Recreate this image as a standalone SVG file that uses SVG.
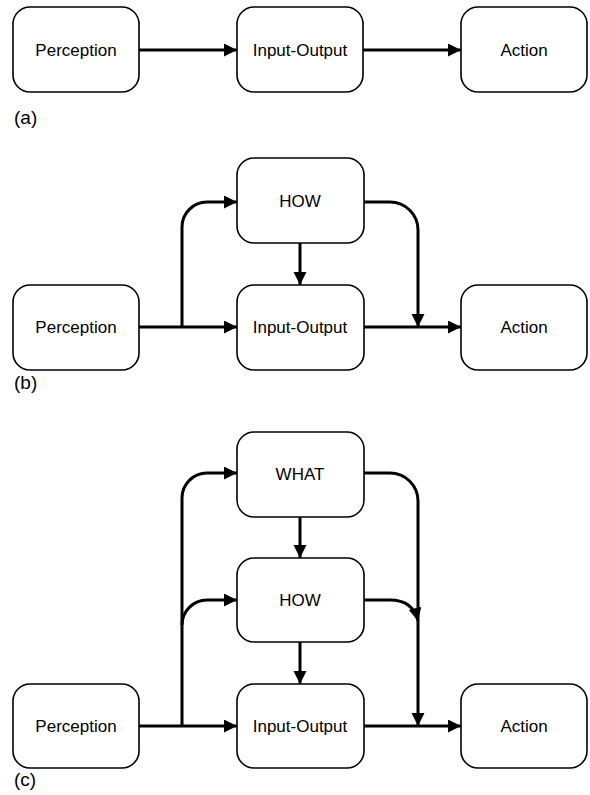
<svg xmlns="http://www.w3.org/2000/svg" width="590" height="795" viewBox="0 0 590 795">
<style>
.box{fill:#fff;stroke:#000;stroke-width:1.6}
.t{font-family:"Liberation Sans",Arial,sans-serif;font-size:17px;text-anchor:middle;fill:#000}
.lbl{font-family:"Liberation Sans",Arial,sans-serif;font-size:19px;fill:#000}
.c{fill:none;stroke:#000;stroke-width:3}
.a{marker-end:url(#ah)}
</style>
<defs>
<marker id="ah" markerUnits="userSpaceOnUse" markerWidth="14" markerHeight="14" refX="13" refY="6.5" orient="auto" viewBox="0 0 14 14">
<path d="M0,0 L13,6.5 L0,13 z" fill="#000"/>
</marker>
</defs>
<rect width="590" height="795" fill="#fff"/>
<g id="connectors">
<!-- (a) -->
<path class="c a" d="M139,50 H237"/>
<path class="c a" d="M363,50 H461"/>
<!-- (b) -->
<path class="c a" d="M139,327 H237"/>
<path class="c a" d="M182,327 V227 A25,25 0 0 1 207,202 H237"/>
<path class="c a" d="M364,202 H390 A28,28 0 0 1 418,230 V327"/>
<path class="c a" d="M364,327 H461"/>
<path class="c a" d="M300,243 V285"/>
<!-- (c) -->
<path class="c a" d="M139,726 H237"/>
<path class="c a" d="M182,726 V498 A25,25 0 0 1 207,473 H237"/>
<path class="c a" d="M182,625 A25,25 0 0 1 207,600 H237"/>
<path class="c a" d="M364,473 H390 A28,28 0 0 1 418,501 V726"/>
<path class="c a" d="M364,600 H390 Q413,600 418,621"/>
<path class="c a" d="M364,726 H461"/>
<path class="c a" d="M300,517 V558"/>
<path class="c a" d="M300,642 V684"/>
</g>
<g id="a-perception"><rect class="box" x="13" y="7" width="126" height="85" rx="17"/><text class="t" x="76" y="56">Perception</text></g>
<g id="a-io"><rect class="box" x="237" y="7" width="126" height="85" rx="17"/><text class="t" x="300" y="56">Input-Output</text></g>
<g id="a-action"><rect class="box" x="461" y="7" width="126" height="85" rx="17"/><text class="t" x="524" y="56">Action</text></g>
<text class="lbl" x="14" y="124">(a)</text>

<g id="b-how"><rect class="box" x="237" y="158" width="127" height="85" rx="17"/><text class="t" x="300" y="207">HOW</text></g>
<g id="b-perception"><rect class="box" x="13" y="285" width="126" height="85" rx="17"/><text class="t" x="76" y="333">Perception</text></g>
<g id="b-io"><rect class="box" x="237" y="285" width="127" height="85" rx="17"/><text class="t" x="300" y="333">Input-Output</text></g>
<g id="b-action"><rect class="box" x="461" y="285" width="126" height="85" rx="17"/><text class="t" x="524" y="333">Action</text></g>
<text class="lbl" x="14" y="389">(b)</text>

<g id="c-what"><rect class="box" x="237" y="432" width="127" height="85" rx="17"/><text class="t" x="300" y="480">WHAT</text></g>
<g id="c-how"><rect class="box" x="237" y="558" width="127" height="84" rx="17"/><text class="t" x="300" y="606">HOW</text></g>
<g id="c-perception"><rect class="box" x="13" y="684" width="126" height="84" rx="17"/><text class="t" x="76" y="732">Perception</text></g>
<g id="c-io"><rect class="box" x="237" y="684" width="127" height="84" rx="17"/><text class="t" x="300" y="732">Input-Output</text></g>
<g id="c-action"><rect class="box" x="461" y="684" width="126" height="84" rx="17"/><text class="t" x="524" y="732">Action</text></g>
<text class="lbl" x="14" y="786">(c)</text>
</svg>
